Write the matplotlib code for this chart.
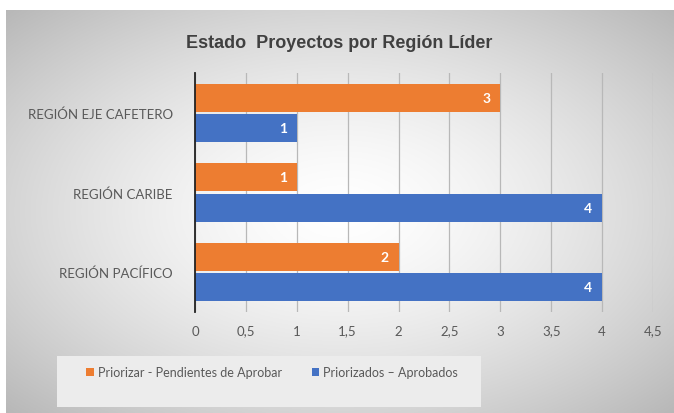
import matplotlib.pyplot as plt
import numpy as np
from matplotlib.patches import Rectangle

# data (bottom to top as drawn)
regions = ['REGIÓN PACÍFICO', 'REGIÓN CARIBE', 'REGIÓN EJE CAFETERO']
pendientes = [2, 1, 3]
aprobados = [4, 4, 1]
xticks = [0, 0.5, 1, 1.5, 2, 2.5, 3, 3.5, 4, 4.5]
xtick_labels = ['0', '0,5', '1', '1,5', '2', '2,5', '3', '3,5', '4', '4,5']
series_labels = ['Priorizar - Pendientes de Aprobar', 'Priorizados – Aprobados']

orange = '#ED7D31'
blue = '#4472C4'
text_gray = '#595959'
plt.rcParams['font.family'] = ['Lato', 'DejaVu Sans']

fig = plt.figure(figsize=(6.74, 4.14), dpi=100)
fig.patch.set_facecolor('white')

# radial gradient background of the chart area
bg = fig.add_axes([6 / 674, 0, 668 / 674, 403 / 414])
gx, gy = np.meshgrid(np.linspace(-1, 1, 400), np.linspace(-1, 1, 250))
r = np.sqrt(gx ** 2 + gy ** 2) / np.sqrt(2)
shade = 1.0 - 0.28 * r ** 1.5
bg.imshow(np.dstack([shade, shade, shade]), aspect='auto', extent=[0, 1, 0, 1])
bg.set_axis_off()

ax = fig.add_axes([195 / 674, 1 - 313 / 414, 458 / 674, 239 / 414])
ax.patch.set_alpha(0)

y = np.arange(len(regions))
h = 0.35
off = 0.19
b1 = ax.barh(y + off, pendientes, h, color=orange, label=series_labels[0], zorder=3)
b2 = ax.barh(y - off, aprobados, h, color=blue, label=series_labels[1], zorder=3)

for bars, vals in [(b1, pendientes), (b2, aprobados)]:
    for bar, v in zip(bars, vals):
        ax.text(bar.get_width() - 0.1, bar.get_y() + bar.get_height() / 2, str(v),
                ha='right', va='center', color='white', fontsize=10, fontweight='bold', zorder=4)

ax.set_xlim(0, 4.5)
ax.set_ylim(-0.5, 2.5)
ax.set_xticks(xticks)
ax.set_xticklabels(xtick_labels, fontsize=9.5, color=text_gray)
ax.set_yticks(y)
ax.set_yticklabels(regions, fontsize=9.5, color=text_gray)
ax.tick_params(length=0, pad=9, axis='x')
ax.tick_params(length=0, pad=16, axis='y')
ax.grid(axis='x', color='#b8b8b8', linewidth=0.9, zorder=0)
ax.set_axisbelow(True)
for s in ['top', 'right', 'bottom']:
    ax.spines[s].set_visible(False)
ax.spines['left'].set_color('#222222')
ax.spines['left'].set_linewidth(1.3)
ax.spines['left'].set_zorder(5)

fig.text(339 / 674, 1 - 44 / 414, 'Estado  Proyectos por Región Líder', ha='center', va='center',
         fontsize=13, fontweight='bold', color='#404040', family=['Liberation Sans', 'DejaVu Sans'])

# legend panel
fig.patches.append(Rectangle((57 / 674, 1 - 408 / 414), 424 / 674, 51 / 414,
                             transform=fig.transFigure, facecolor='#ececec', edgecolor='none', zorder=1))
fig.legend(handles=[b1, b2], labels=series_labels, loc='center', bbox_to_anchor=(272 / 674, 1 - 373 / 414),
           ncol=2, frameon=False, fontsize=9, handlelength=0.6, handleheight=0.6, handletextpad=0.3,
           columnspacing=2.4, labelcolor=text_gray)

fig.savefig('out.png', dpi=100)
